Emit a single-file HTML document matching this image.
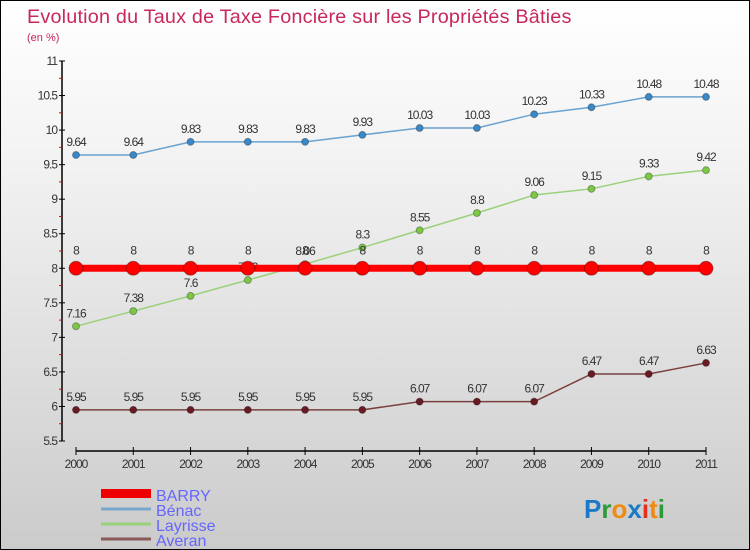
<!DOCTYPE html>
<html><head><meta charset="utf-8"><style>
body{margin:0}
#c{width:750px;height:550px;position:relative;overflow:hidden;box-sizing:border-box;border:1px solid #000;background:linear-gradient(#fff 0%,#f2f2f2 30%,#cbcbcb 100%);font-family:"Liberation Sans",sans-serif}
</style></head><body>
<div id="c">
<svg id="s" width="750" height="550" style="position:absolute;left:0;top:0">
<text x="26" y="22" font-size="19.8" letter-spacing="0.2" fill="#c8285a">Evolution du Taux de Taxe Foncière sur les Propriétés Bâties</text>
<text x="26" y="40" font-size="11" fill="#c8285a">(en %)</text>
<g id="axes"></g><g id="series"></g>
<g>
<rect x="100" y="488" width="50" height="9" fill="#e00"/>
<text x="155" y="500" font-size="16" fill="#66f">BARRY</text>
<line x1="100" y1="508" x2="150" y2="508" stroke="#7aa7cc" stroke-width="3"/>
<text x="155" y="515" font-size="16" fill="#66f">Bénac</text>
<line x1="100" y1="523" x2="150" y2="523" stroke="#9ad17a" stroke-width="3"/>
<text x="155" y="530" font-size="16" fill="#66f">Layrisse</text>
<line x1="100" y1="538" x2="150" y2="538" stroke="#8a5a5a" stroke-width="3"/>
<text x="155" y="545" font-size="16" fill="#66f">Averan</text>
</g>
<g font-size="26" font-weight="bold">
<text x="583" y="517"><tspan fill="#1a7ac8">P</tspan><tspan fill="#2a9a3a">r</tspan><tspan fill="#f08a10">o</tspan><tspan fill="#1a7ac8">x</tspan><tspan fill="#e03020">i</tspan><tspan fill="#f08a10">t</tspan><tspan fill="#2a9a3a">i</tspan></text>
</g>
</svg>
</div>
<script>
const years=[2000,2001,2002,2003,2004,2005,2006,2007,2008,2009,2010,2011];
const barry=[8,8,8,8,8,8,8,8,8,8,8,8];
const benac=[9.64,9.64,9.83,9.83,9.83,9.93,10.03,10.03,10.23,10.33,10.48,10.48];
const layrisse=[7.16,7.38,7.6,7.83,8.06,8.3,8.55,8.8,9.06,9.15,9.33,9.42];
const averan=[5.95,5.95,5.95,5.95,5.95,5.95,6.07,6.07,6.07,6.47,6.47,6.63];
const yTicks=[5.5,6,6.5,7,7.5,8,8.5,9,9.5,10,10.5,11];
const NS="http://www.w3.org/2000/svg";
const xS=i=>75+i*(705-75)/(years.length-1);
const yS=v=>440-(v-5.5)*(380/5.5);
function mk(t,a,p){const e=document.createElementNS(NS,t);for(const k in a)e.setAttribute(k,a[k]);p.appendChild(e);return e;}
const ax=document.getElementById('axes');
let e=mk('line',{x1:61,y1:60,x2:61,y2:440,stroke:'#000','stroke-width':1.5},ax);


e=mk('line',{x1:75,y1:450,x2:705,y2:450,stroke:'#000','stroke-width':1.5},ax);


yTicks.forEach(v=>{
 const y=yS(v);
 mk('line',{x1:58,y1:y,x2:64,y2:y,stroke:'#000'},ax);
 if(v<11) mk('line',{x1:58,y1:yS(v+0.25),x2:61,y2:yS(v+0.25),stroke:'#e00'},ax);
 const t=mk('text',{x:56,y:y+4,'font-size':12,fill:'#333','text-anchor':'end','letter-spacing':'-1'},ax);
 t.textContent=String(v);
 
 
});
years.forEach((yr,i)=>{
 const x=xS(i);
 mk('line',{x1:x,y1:446,x2:x,y2:454,stroke:'#000'},ax);
 const t=mk('text',{x:x,y:467,'font-size':12,fill:'#333','text-anchor':'middle','letter-spacing':'-1'},ax);
 t.textContent=yr;
 
 
});
const sg=document.getElementById('series');
function series(vals,name,line,dot,lw,r,lblOff){
 const g=mk('g',{},sg);
 
 
 const pts=vals.map((v,i)=>xS(i)+','+yS(v)).join(' ');
 const pl=mk('polyline',{points:pts,fill:'none',stroke:line,'stroke-width':lw},g);
 
 
 vals.forEach((v,i)=>{
  const c=mk('circle',{cx:xS(i),cy:yS(v),r:r,fill:dot,stroke:'rgba(0,0,0,0.3)'},g);
  
  
  const t=mk('text',{x:xS(i),y:yS(v)-lblOff,'font-size':12,fill:'#333','text-anchor':'middle','letter-spacing':'-1'},g);
  t.textContent=String(v);
  
  
 });
}
series(averan,'averan','#7a4040','#6a1a22',1.5,3.5,9);
series(layrisse,'layrisse','#9ad17a','#7cc845',1.5,3.5,9);
series(benac,'benac','#6aa2d0','#3a88c8',1.5,3.5,9);
series(barry,'barry','#f00','#f00',7,7,14);
</script>
</body></html>
